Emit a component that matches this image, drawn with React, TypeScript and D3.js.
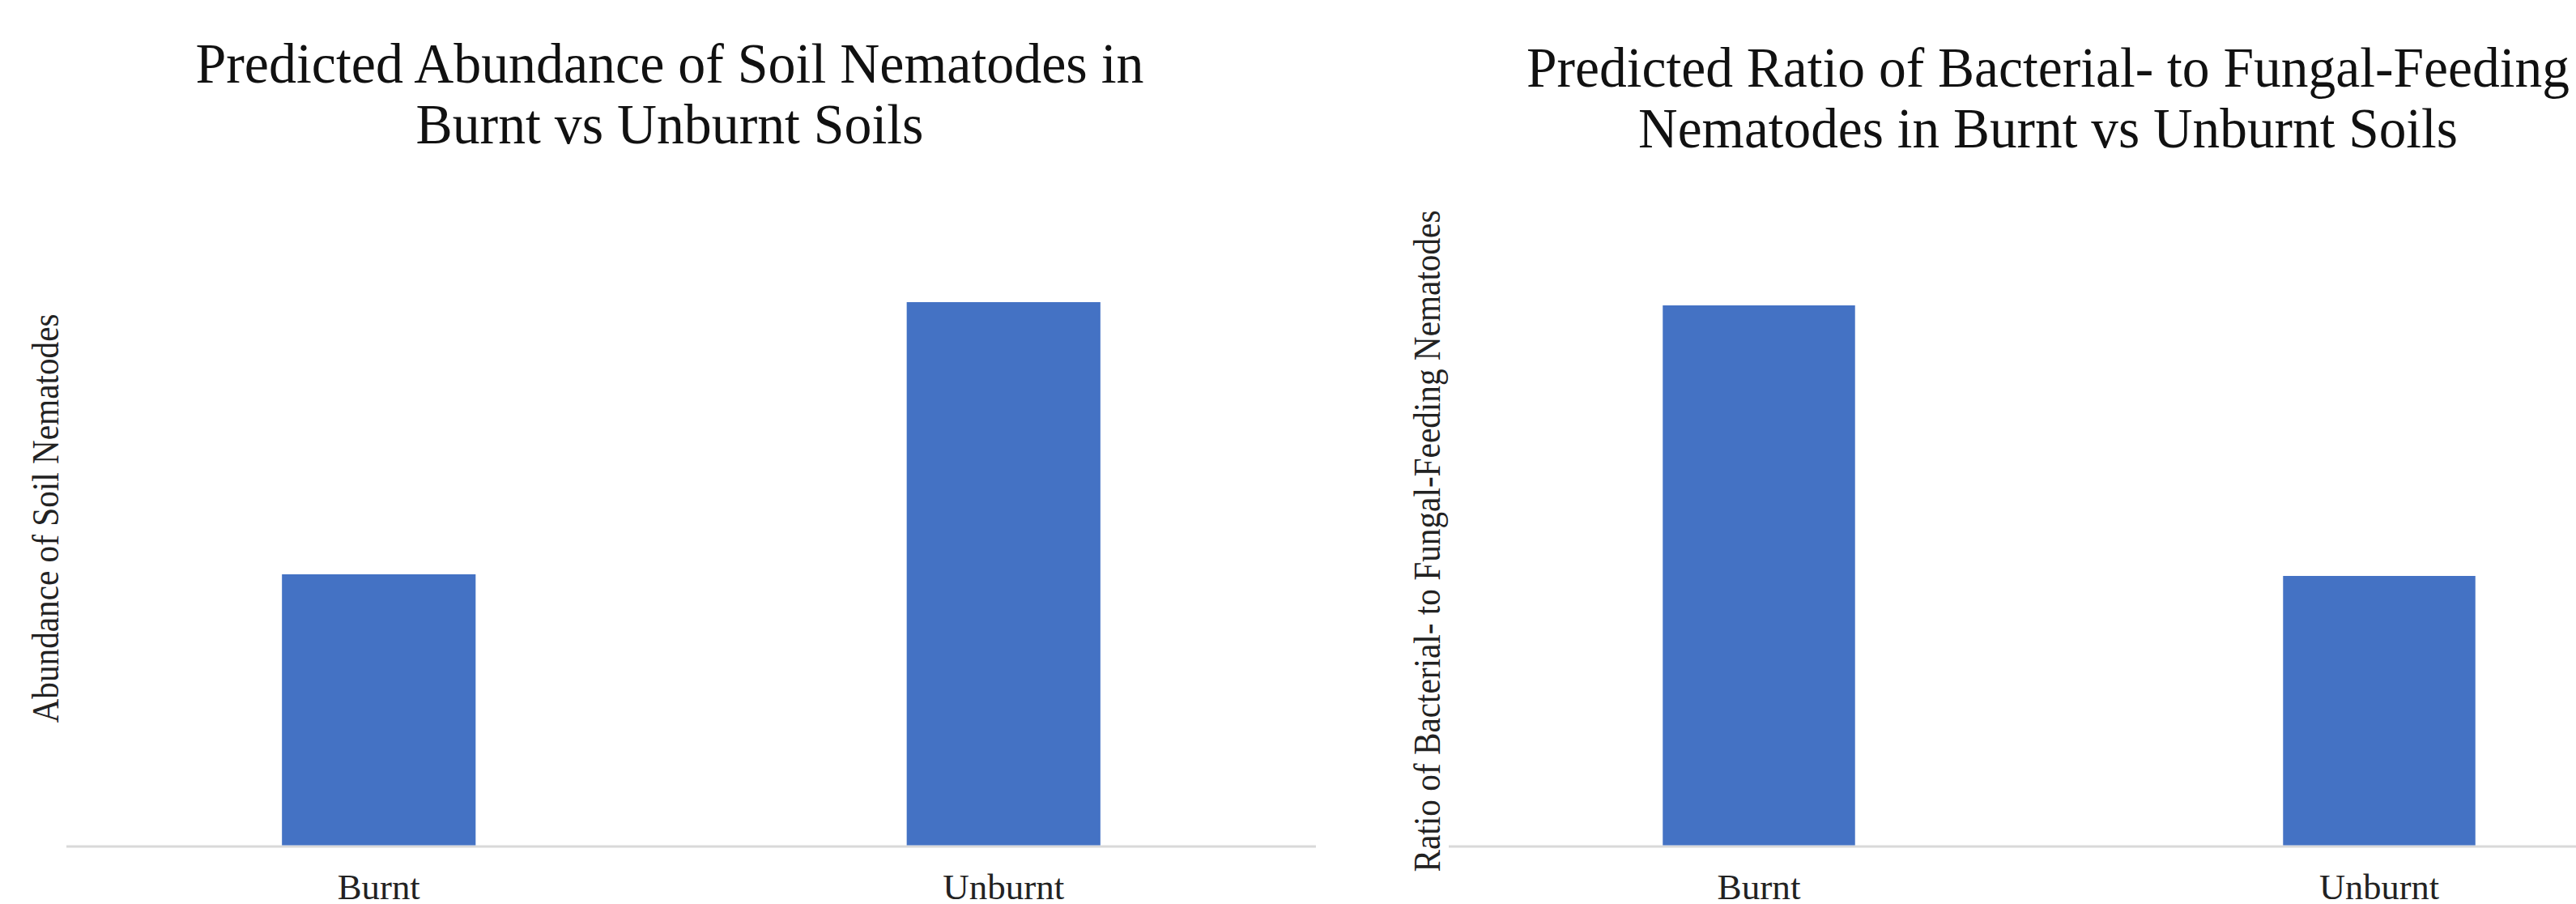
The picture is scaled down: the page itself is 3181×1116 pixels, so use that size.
import React, { useEffect } from "react";
import * as d3 from "d3";

const categories = ["Burnt", "Unburnt"];
const abundanceValues = [5, 10];
const ratioValues = [10, 5];

const leftTitle = ["Predicted Abundance of Soil Nematodes in", "Burnt vs Unburnt Soils"];
const rightTitle = ["Predicted Ratio of Bacterial- to Fungal-Feeding", "Nematodes in Burnt vs Unburnt Soils"];
const leftYLabel = "Abundance of Soil Nematodes";
const rightYLabel = "Ratio of Bacterial- to Fungal-Feeding Nematodes";

const W = 3181;
const H = 1116;
const BAR = "#4472C4";
const FONT = "'Liberation Serif', 'Times New Roman', serif";

type PanelProps = {
  values: number[];
  xRange: [number, number];
  yTop: number;
  title: string[];
  titleX: number;
  titleY: number;
  titleLens: number[];
  yLabel: string;
  yLabelX: number;
  yLabelY: number;
  yLabelLen: number;
  catLens: number[];
};

function Panel(p: PanelProps) {
  const baseline = 1045;
  const x = d3.scaleBand<string>().domain(categories).range(p.xRange).paddingInner(0.69).paddingOuter(0.345);
  const y = d3.scaleLinear().domain([0, 10]).range([baseline, p.yTop]);
  const step = x.step();
  return (
    <g>
      {p.title.map((t, i) => (
        <text
          key={i}
          x={p.titleX}
          y={p.titleY + i * 75}
          textAnchor="middle"
          fontFamily={FONT}
          fontSize={69}
          fill="#111"
          textLength={p.titleLens[i]}
          lengthAdjust="spacingAndGlyphs"
        >
          {t}
        </text>
      ))}
      <text
        transform={`translate(${p.yLabelX},${p.yLabelY}) rotate(-90)`}
        textAnchor="middle"
        fontFamily={FONT}
        fontSize={46}
        fill="#222"
        textLength={p.yLabelLen}
        lengthAdjust="spacingAndGlyphs"
      >
        {p.yLabel}
      </text>
      <line x1={p.xRange[0]} x2={p.xRange[1]} y1={baseline} y2={baseline} stroke="#d9d9d9" strokeWidth={3} />
      {categories.map((c, i) => (
        <rect
          key={c}
          x={x(c)!}
          y={y(p.values[i])}
          width={x.bandwidth()}
          height={baseline - 1.5 - y(p.values[i])}
          fill={BAR}
        />
      ))}
      {categories.map((c, i) => (
        <text
          key={c + "l"}
          x={x(c)! + x.bandwidth() / 2}
          y={1110}
          textAnchor="middle"
          fontFamily={FONT}
          fontSize={44}
          fill="#222"
          textLength={p.catLens[i]}
          lengthAdjust="spacingAndGlyphs"
        >
          {c}
        </text>
      ))}
    </g>
  );
}

export default function App() {
  useEffect(() => {
    document.body.style.margin = "0";
  }, []);
  return (
    <svg width={W} height={H} style={{ display: "block", background: "#fff" }}>
      <rect width={W} height={H} fill="#fff" />
      <Panel
        values={abundanceValues}
        xRange={[82, 1625]}
        yTop={373}
        title={leftTitle}
        titleX={827}
        titleY={102}
        titleLens={[1171, 627]}
        yLabel={leftYLabel}
        yLabelX={72}
        yLabelY={640}
        yLabelLen={505}
        catLens={[102, 150]}
      />
      <Panel
        values={ratioValues}
        xRange={[1789, 3321]}
        yTop={377}
        title={rightTitle}
        titleX={2529}
        titleY={107}
        titleLens={[1288, 1012]}
        yLabel={rightYLabel}
        yLabelX={1778}
        yLabelY={668}
        yLabelLen={817}
        catLens={[103, 148]}
      />
    </svg>
  );
}
